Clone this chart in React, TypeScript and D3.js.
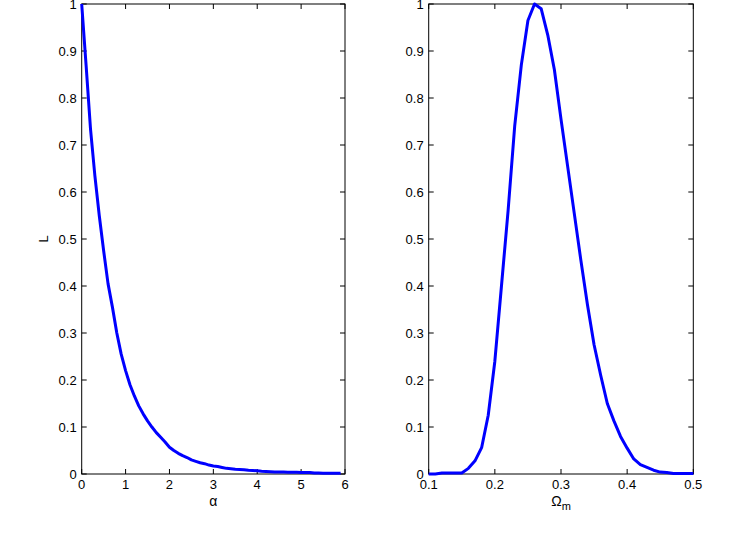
import React from "react";
import * as d3 from "d3";

const alphaValues = [
  0.0, 0.1, 0.2, 0.3, 0.4, 0.5, 0.6, 0.7, 0.8, 0.9,
  1.0, 1.1, 1.2, 1.3, 1.4, 1.5, 1.6, 1.7, 1.8, 1.9,
  2.0, 2.1, 2.2, 2.3, 2.4, 2.5, 2.6, 2.7, 2.8, 2.9,
  3.0, 3.1, 3.2, 3.3, 3.4, 3.5, 3.6, 3.7, 3.8, 3.9,
  4.0, 4.1, 4.2, 4.3, 4.4, 4.5, 4.6, 4.7, 4.8, 4.9,
  5.0, 5.1, 5.2, 5.3, 5.4, 5.5, 5.6, 5.7, 5.8, 5.9,
];
const alphaL = [
  1.0, 0.87, 0.735, 0.635, 0.55, 0.475, 0.405, 0.355, 0.3, 0.255,
  0.22, 0.19, 0.166, 0.145, 0.128, 0.113, 0.1, 0.088, 0.078, 0.068,
  0.057, 0.05, 0.044, 0.039, 0.035, 0.03, 0.027, 0.024, 0.022, 0.019,
  0.017, 0.016, 0.014, 0.012, 0.011, 0.01, 0.0095, 0.009, 0.008, 0.0075,
  0.0068, 0.006, 0.0055, 0.005, 0.0045, 0.004, 0.004, 0.0038, 0.0036, 0.0035,
  0.0034, 0.0033, 0.003, 0.002, 0.002, 0.0018, 0.0017, 0.0016, 0.0015, 0.0015,
];

const omegaValues = [
  0.1, 0.11, 0.12, 0.13, 0.14, 0.15, 0.16, 0.17, 0.18, 0.19,
  0.2, 0.21, 0.22, 0.23, 0.24, 0.25, 0.26, 0.27, 0.28, 0.29,
  0.3, 0.31, 0.32, 0.33, 0.34, 0.35, 0.36, 0.37, 0.38, 0.39,
  0.4, 0.41, 0.42, 0.43, 0.44, 0.45, 0.46, 0.47, 0.48, 0.49, 0.5,
];
const omegaL = [
  0.0, 0.0, 0.002, 0.002, 0.002, 0.002, 0.012, 0.028, 0.056, 0.125,
  0.24, 0.4, 0.56, 0.74, 0.87, 0.965, 1.0, 0.99, 0.934, 0.86,
  0.755, 0.655, 0.555, 0.455, 0.36, 0.275, 0.21, 0.15, 0.113, 0.08,
  0.055, 0.032, 0.02, 0.014, 0.008, 0.004, 0.003, 0.001, 0.001, 0.001, 0.001,
];

const yTicks = [0, 0.1, 0.2, 0.3, 0.4, 0.5, 0.6, 0.7, 0.8, 0.9, 1];
const alphaTicks = [0, 1, 2, 3, 4, 5, 6];
const omegaTicks = [0.1, 0.2, 0.3, 0.4, 0.5];

const FONT = "'Liberation Sans', Arial, Helvetica, sans-serif";

type PanelProps = {
  x0: number;
  x1: number;
  domain: [number, number];
  xs: number[];
  ys: number[];
  xTicks: number[];
  xFmt: (v: number) => string;
  xLabel: React.ReactNode;
  yLabel?: string;
};

const TOP = 4;
const BOTTOM = 474;
const TICK = 5;

function Panel({ x0, x1, domain, xs, ys, xTicks, xFmt, xLabel, yLabel }: PanelProps) {
  const x = d3.scaleLinear().domain(domain).range([x0, x1]);
  const y = d3.scaleLinear().domain([0, 1]).range([BOTTOM, TOP]);
  const pts: [number, number][] = xs.map((v, i) => [v, ys[i]]);
  const line = d3
    .line<[number, number]>()
    .x((d) => x(d[0]))
    .y((d) => y(d[1]));
  const yFmt = (v: number) => (v === 0 ? "0" : v === 1 ? "1" : d3.format(".1f")(v));
  return (
    <g>
      <rect x={x0} y={TOP} width={x1 - x0} height={BOTTOM - TOP} fill="white" stroke="black" strokeWidth={1} />
      {yTicks.map((t) => (
        <g key={"y" + t}>
          <line x1={x0} x2={x0 + TICK} y1={y(t)} y2={y(t)} stroke="black" strokeWidth={1} />
          <line x1={x1} x2={x1 - TICK} y1={y(t)} y2={y(t)} stroke="black" strokeWidth={1} />
          <text x={x0 - 5} y={y(t) + 4.5} textAnchor="end" fontSize={13} fontFamily={FONT} fill="black">
            {yFmt(t)}
          </text>
        </g>
      ))}
      {xTicks.map((t) => (
        <g key={"x" + t}>
          <line x1={x(t)} x2={x(t)} y1={BOTTOM} y2={BOTTOM - TICK} stroke="black" strokeWidth={1} />
          <line x1={x(t)} x2={x(t)} y1={TOP} y2={TOP + TICK} stroke="black" strokeWidth={1} />
          <text x={x(t)} y={489} textAnchor="middle" fontSize={13} fontFamily={FONT} fill="black">
            {xFmt(t)}
          </text>
        </g>
      ))}
      <path d={line(pts) || ""} fill="none" stroke="#0000ff" strokeWidth={3} strokeLinejoin="round" />
      <text x={(x0 + x1) / 2} y={506} textAnchor="middle" fontSize={14} fontFamily={FONT} fill="black">
        {xLabel}
      </text>
      {yLabel && (
        <text
          transform={`translate(48, ${(TOP + BOTTOM) / 2}) rotate(-90)`}
          textAnchor="middle"
          fontSize={13}
          fontFamily={FONT}
          fill="black"
        >
          {yLabel}
        </text>
      )}
    </g>
  );
}

export default function App() {
  return (
    <svg width={748} height={548} style={{ position: "absolute", left: 0, top: 0, background: "white" }}>
      <rect width={748} height={548} fill="white" />
      <Panel
        x0={81.7}
        x1={345}
        domain={[0, 6]}
        xs={alphaValues}
        ys={alphaL}
        xTicks={alphaTicks}
        xFmt={(v) => String(v)}
        xLabel="α"
        yLabel="L"
      />
      <Panel
        x0={428.7}
        x1={693.3}
        domain={[0.1, 0.5]}
        xs={omegaValues}
        ys={omegaL}
        xTicks={omegaTicks}
        xFmt={(v) => d3.format(".1f")(v)}
        xLabel={
          <>
            Ω<tspan fontSize={11} dy={4}>m</tspan>
          </>
        }
      />
    </svg>
  );
}
